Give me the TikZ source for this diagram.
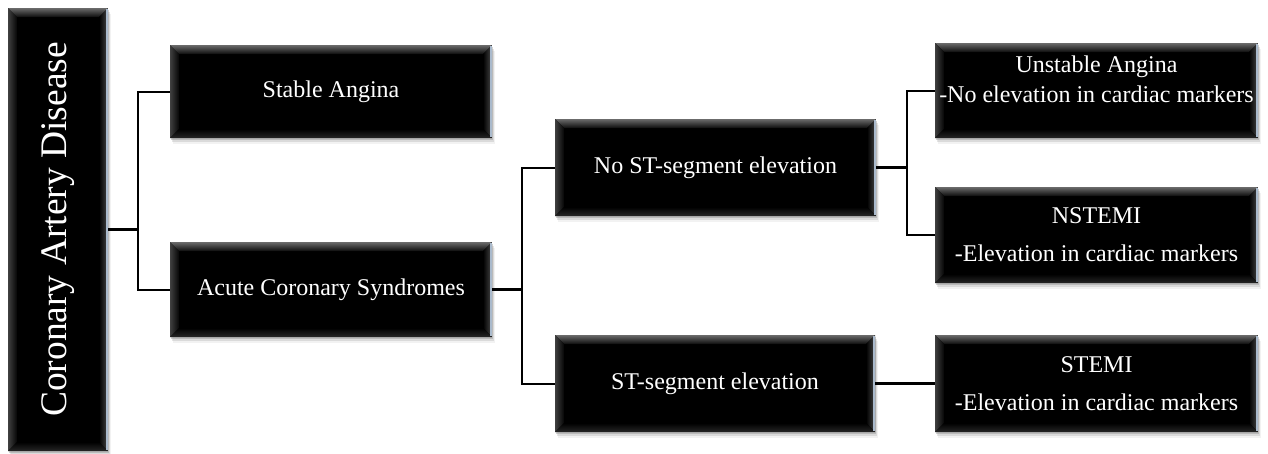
\documentclass[tikz,border=0pt]{standalone}
\usepackage{fontspec}
\usepackage{graphicx}
\setmainfont{Liberation Serif}
\usetikzlibrary{shadows}
\definecolor{edgehl}{RGB}{170,186,204}
\tikzset{
  bevbox/.style={rectangle, fill=black, inner sep=0pt, align=center, text=white,
    font=\fontsize{24}{38}\selectfont,
    drop shadow={shadow xshift=1pt, shadow yshift=-2pt, opacity=0.35},
    drop shadow={shadow xshift=2pt, shadow yshift=-4pt, opacity=0.2},
    drop shadow={shadow xshift=2.5pt, shadow yshift=-5.5pt, opacity=0.1},
    path picture={
      \path (path picture bounding box.south west) coordinate (pSW)
            (path picture bounding box.north east) coordinate (pNE)
            (path picture bounding box.north west) coordinate (pNW)
            (path picture bounding box.south east) coordinate (pSE);
      \shade[top color=black!58, bottom color=black!95]
        (pNW) -- (pNE) -- ([shift={(-9pt,-9pt)}]pNE) -- ([shift={(9pt,-9pt)}]pNW) -- cycle;
      \shade[left color=black!75, right color=black!98]
        (pNW) -- ([shift={(9pt,-9pt)}]pNW) -- ([shift={(9pt,9pt)}]pSW) -- (pSW) -- cycle;
      \shade[left color=black, right color=black!72]
        (pNE) -- (pSE) -- ([shift={(-9pt,9pt)}]pSE) -- ([shift={(-9pt,-9pt)}]pNE) -- cycle;
      \shade[top color=black, bottom color=black!85]
        (pSW) -- (pSE) -- ([shift={(-9pt,9pt)}]pSE) -- ([shift={(9pt,9pt)}]pSW) -- cycle;
      \fill[edgehl] ([xshift=-2.5pt,yshift=-1pt]pNE) rectangle ([yshift=1pt]pSE);
    }},
  trunk/.style={line width=3pt},
  branch/.style={line width=2pt}
}
\begin{document}
\begin{tikzpicture}[x=1pt, y=-1pt]
\useasboundingbox (0,0) rectangle (1268,453);
\fill[white] (0,0) rectangle (1268,453);

% boxes
\node[bevbox, minimum width=100pt, minimum height=443pt] (cad) at (58,229.5)
  {\rotatebox{90}{\fontsize{37.5}{40}\selectfont Coronary Artery Disease}};
\node[bevbox, minimum width=322pt, minimum height=93pt] (sa) at (331,91.5) {Stable Angina};
\node[bevbox, minimum width=322pt, minimum height=95pt] (acs) at (331,289.5) {Acute Coronary Syndromes};
\node[bevbox, minimum width=321pt, minimum height=97pt] (nost) at (715.5,167.5) {No ST-segment elevation};
\node[bevbox, minimum width=320pt, minimum height=97pt] (st) at (715,383.5) {ST-segment elevation};
\node[bevbox, minimum width=323pt, minimum height=95pt, text depth=23pt,
      font=\fontsize{24}{30}\selectfont] (ua) at (1096.5,90.5)
  {Unstable Angina\\-No elevation in cardiac markers};
\node[bevbox, minimum width=323pt, minimum height=96pt] (nstemi) at (1096.5,235)
  {NSTEMI\\-Elevation in cardiac markers};
\node[bevbox, minimum width=323pt, minimum height=97pt] (stemi) at (1096.5,383.5)
  {STEMI\\-Elevation in cardiac markers};

% connectors
\draw[trunk] (cad.east) -- ++(30,0) coordinate (j1);
\draw[branch] (j1) |- (sa.west);
\draw[branch] (j1) |- (acs.west);

\draw[trunk] (acs.east) -- ++(30,0) coordinate (j2);
\draw[branch] (j2) |- (nost.west);
\draw[branch] (j2) |- (st.west);

\draw[trunk] (nost.east) -- ++(31,0) coordinate (j3);
\draw[branch] (j3) |- (ua.west);
\draw[branch] (j3) |- (nstemi.west);

\draw[trunk] (st.east) -- (stemi.west);
\end{tikzpicture}
\end{document}
